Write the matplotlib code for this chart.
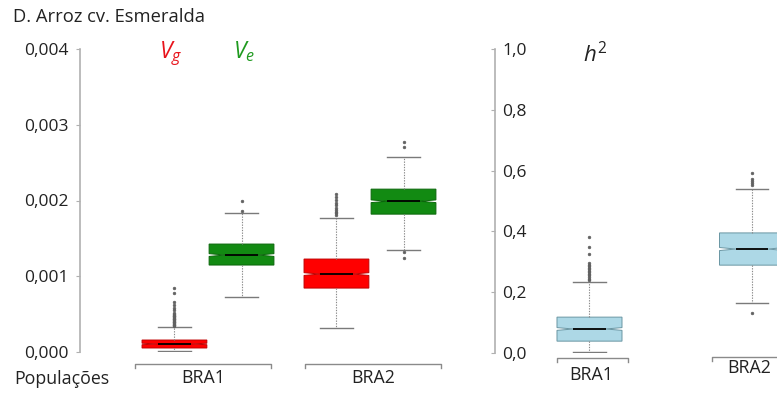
import matplotlib
matplotlib.use('Agg')
import matplotlib.pyplot as plt
from matplotlib.transforms import blended_transform_factory

plt.rcParams['font.family'] = ['Open Sans', 'DejaVu Sans']
plt.rcParams['mathtext.fontset'] = 'custom'
plt.rcParams['mathtext.it'] = 'Open Sans:italic'
plt.rcParams['mathtext.rm'] = 'Open Sans'

# ---------------- data ----------------
populations = ['BRA1', 'BRA2']

# Vg (genetic variance)
vg_med = [0.000106, 0.001029]
vg_q1 = [0.000053, 0.000844]
vg_q3 = [0.000158, 0.001227]
vg_whislo = [0.000013, 0.000317]
vg_whishi = [0.000330, 0.001768]
vg_notch = [0.000010, 0.000018]
vg_fliers = [
    [0.00034, 0.00035, 0.00036, 0.00037, 0.00038, 0.00039, 0.00040, 0.00041,
     0.00042, 0.00043, 0.00044, 0.00045, 0.00046, 0.00047, 0.00048, 0.00049,
     0.00050, 0.00052, 0.00055, 0.00058, 0.00062, 0.00066, 0.00078, 0.00084],
    [0.00181, 0.00183, 0.00185, 0.00188, 0.00190, 0.00194, 0.00197, 0.00201,
     0.00205, 0.00208],
]

# Ve (environmental variance)
ve_med = [0.001280, 0.001990]
ve_q1 = [0.001148, 0.001820]
ve_q3 = [0.001425, 0.002150]
ve_whislo = [0.000726, 0.001346]
ve_whishi = [0.001834, 0.002570]
ve_notch = [0.000018, 0.000018]
ve_fliers = [
    [0.00186, 0.00199],
    [0.00124, 0.00132, 0.00270, 0.00277],
]

# h2 (heritability)
h2_med = [0.079, 0.342]
h2_q1 = [0.039, 0.289]
h2_q3 = [0.118, 0.395]
h2_whislo = [0.003, 0.164]
h2_whishi = [0.234, 0.539]
h2_notch = [0.0045, 0.0050]
h2_fliers = [
    [0.240, 0.245, 0.250, 0.255, 0.260, 0.265, 0.270, 0.275, 0.280, 0.285,
     0.290, 0.296, 0.326, 0.349, 0.380],
    [0.132, 0.552, 0.559, 0.566, 0.572, 0.592],
]

left_ticks = [0.000, 0.001, 0.002, 0.003, 0.004]
left_ticklabels = ['0,000', '0,001', '0,002', '0,003', '0,004']
right_ticks = [0.0, 0.2, 0.4, 0.6, 0.8, 1.0]
right_ticklabels = ['0,0', '0,2', '0,4', '0,6', '0,8', '1,0']


def make_stats(med, q1, q3, lo, hi, notch, fliers):
    out = []
    for i in range(len(med)):
        out.append(dict(med=med[i], q1=q1[i], q3=q3[i], whislo=lo[i],
                        whishi=hi[i], cilo=med[i] - notch[i],
                        cihi=med[i] + notch[i], fliers=fliers[i]))
    return out


TXT = '#222222'


def draw(ax, stats, positions, width, face, edge):
    ax.bxp(stats, positions=positions, widths=width, shownotches=True,
           patch_artist=True, manage_ticks=False,
           boxprops=dict(facecolor=face, edgecolor=edge, linewidth=0.7),
           medianprops=dict(color='black', linewidth=1.3, solid_capstyle='butt'),
           whiskerprops=dict(color='#8a8a8a', linewidth=0.8, linestyle=(0, (1.2, 1.2))),
           capprops=dict(color='#7a7a7a', linewidth=1.0),
           flierprops=dict(marker='o', markersize=2.0, markerfacecolor='#606060',
                           markeredgecolor='#606060', markeredgewidth=0.4,
                           linestyle='none'))


def style_axis(ax):
    for s in ['top', 'right', 'bottom']:
        ax.spines[s].set_visible(False)
    ax.spines['left'].set_color('#b0b0b0')
    ax.spines['left'].set_linewidth(1.2)
    ax.set_xticks([])
    ax.tick_params(axis='y', direction='out', length=3, width=0.8,
                   color='#b0b0b0', labelsize=12.5, labelcolor=TXT)
    ax.patch.set_alpha(0)


W, H = 777, 397
fig = plt.figure(figsize=(W / 100, H / 100), dpi=100)

# ---------------- left panel: Vg / Ve ----------------
ax1 = fig.add_axes([80 / W, 1 - 352 / H, (2.6 - 0.21) * 162 / W, 303 / H])
groups = [1, 2]
off = 0.207
draw(ax1, make_stats(vg_med, vg_q1, vg_q3, vg_whislo, vg_whishi, vg_notch, vg_fliers),
     [g - off for g in groups], 0.40, '#ff0000', '#c00000')
draw(ax1, make_stats(ve_med, ve_q1, ve_q3, ve_whislo, ve_whishi, ve_notch, ve_fliers),
     [g + off for g in groups], 0.40, '#128a12', '#0b660b')
ax1.set_xlim(0.21, 2.6)
ax1.set_ylim(0, 0.004)
ax1.set_yticks(left_ticks)
ax1.set_yticklabels(left_ticklabels)
style_axis(ax1)
ax1.tick_params(axis='y', pad=5)

tr1 = blended_transform_factory(ax1.transData, ax1.transAxes)
shift1 = [-0.03, 0.02]
for g, name, sh in zip(groups, populations, shift1):
    a, b = g + sh - 0.42, g + sh + 0.42
    ax1.plot([a, a, b, b], [-0.053, -0.0396, -0.0396, -0.053], color='#8a8a8a',
             lw=1.0, transform=tr1, clip_on=False)
    ax1.text(g + sh, -0.0858, name, transform=tr1, ha='center', va='center',
             fontsize=12.8, color=TXT)

# ---------------- right panel: h2 ----------------
ax2 = fig.add_axes([495 / W, 1 - 353 / H, (2.5 - 0.4185) * 162.5 / W, 304 / H])
draw(ax2, make_stats(h2_med, h2_q1, h2_q3, h2_whislo, h2_whishi, h2_notch, h2_fliers),
     groups, 0.40, '#add8e6', '#6a96a3')
ax2.set_xlim(0.4185, 2.5)
ax2.set_ylim(0, 1.0)
ax2.set_yticks(right_ticks)
ax2.set_yticklabels(right_ticklabels)
style_axis(ax2)
ax2.tick_params(axis='y', pad=-8)
plt.setp(ax2.get_yticklabels(), ha='left')

tr2 = blended_transform_factory(ax2.transData, ax2.transAxes)
br_lo = [0.80, 1.754]
br_y = [-0.0164, -0.013]
lab_x = [1.01, 1.98]
lab_y = [-0.072, -0.049]
for i, name in enumerate(populations):
    a, b = br_lo[i], br_lo[i] + 0.437
    y0 = br_y[i]
    ax2.plot([a, a, b, b], [y0 - 0.013, y0, y0, y0 - 0.013], color='#8a8a8a',
             lw=1.0, transform=tr2, clip_on=False)
    ax2.text(lab_x[i], lab_y[i], name, transform=tr2, ha='center', va='center',
             fontsize=12.8, color=TXT)

# ---------------- texts ----------------
fig.text(13 / W, 1 - 22 / H, 'D. Arroz cv. Esmeralda', fontsize=13.2,
         color=TXT, ha='left', va='baseline')
fig.text(14 / W, 1 - 379 / H, 'Populações', fontsize=12.8, color=TXT,
         ha='left', va='center')
fig.text(159 / W, 1 - 58 / H, r'$V_g$', fontsize=16.5, color='#e8141c',
         ha='left', va='baseline')
fig.text(233 / W, 1 - 58 / H, r'$V_e$', fontsize=16.5, color='#1f9a1f',
         ha='left', va='baseline')
fig.text(583 / W, 1 - 62 / H, r'$h^2$', fontsize=16, color=TXT,
         ha='left', va='baseline')

fig.savefig('out.png', dpi=100)
